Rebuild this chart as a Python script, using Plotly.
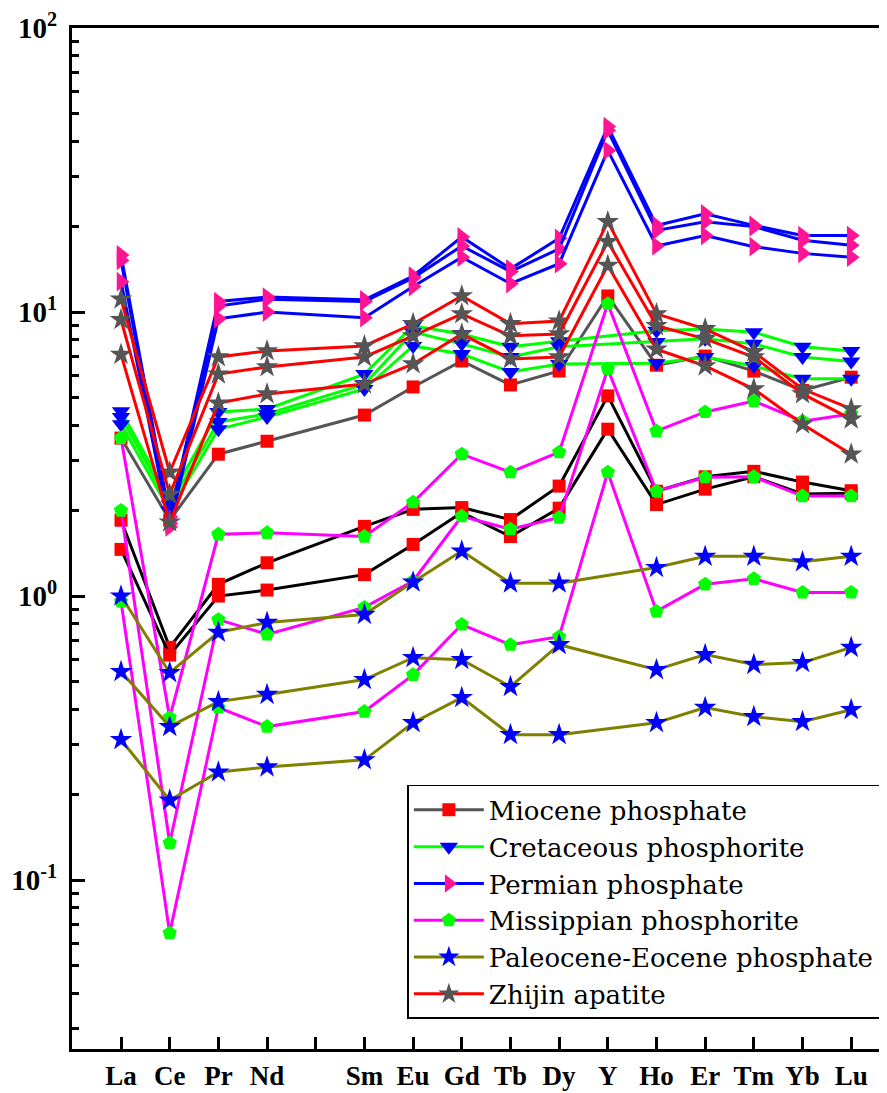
import plotly.graph_objects as go

# Element order on the x axis (blank slot for Pm)
categories = ["La", "Ce", "Pr", "Nd", " ", "Sm", "Eu", "Gd", "Tb", "Dy", "Y", "Ho", "Er", "Tm", "Yb", "Lu"]
elements = ["La", "Ce", "Pr", "Nd", "Sm", "Eu", "Gd", "Tb", "Dy", "Y", "Ho", "Er", "Tm", "Yb", "Lu"]

# Miocene phosphate
miocene_1 = [3.6, 1.85, 3.16, 3.51, 4.34, 5.45, 6.73, 5.54, 6.2, 11.4, 6.5, 7.0, 6.2, 5.3, 5.9]
miocene_2 = [1.85, 0.66, 1.10, 1.31, 1.76, 2.02, 2.05, 1.86, 2.44, 5.07, 2.34, 2.63, 2.75, 2.52, 2.35]
miocene_3 = [1.46, 0.62, 1.00, 1.05, 1.19, 1.52, 1.97, 1.62, 2.04, 3.87, 2.10, 2.38, 2.63, 2.29, 2.30]

# Cretaceous phosphorite (no Y value)
cretaceous_1 = [4.48, 2.2, 4.45, 4.56, 6.05, 8.95, 8.37, 7.55, 7.9, None, 8.6, 8.72, 8.5, 7.55, 7.3]
cretaceous_2 = [4.27, 2.1, 4.1, 4.38, 5.58, 8.5, 7.73, 6.95, 7.55, None, 7.85, 8.05, 7.73, 6.95, 6.7]
cretaceous_3 = [4.03, 2.0, 3.87, 4.27, 5.36, 7.6, 7.12, 6.15, 6.57, None, 6.6, 6.95, 6.46, 5.82, 5.82]

# Permian phosphate
permian_1 = [15.9, 1.9, 10.9, 11.3, 11.05, 13.4, 18.4, 14.2, 18.2, 45.0, 20.2, 22.2, 20.2, 18.6, 18.6]
permian_2 = [15.2, 1.8, 10.5, 11.1, 10.9, 13.2, 17.1, 13.9, 16.7, 43.6, 19.4, 20.8, 20.0, 17.9, 17.2]
permian_3 = [12.8, 1.75, 9.47, 10.0, 9.55, 12.3, 15.6, 12.6, 14.8, 37.1, 17.1, 18.6, 17.0, 16.1, 15.6]

# Missippian phosphorite
missippian_1 = [3.6, 0.373, 1.65, 1.67, 1.62, 2.14, 3.16, 2.73, 3.21, 10.7, 3.81, 4.45, 4.86, 4.13, 4.38]
missippian_2 = [2.0, 0.135, 0.826, 0.733, 0.912, 1.13, 1.91, 1.72, 1.89, 6.3, 2.34, 2.62, 2.63, 2.25, 2.25]
missippian_3 = [0.957, 0.065, 0.405, 0.347, 0.392, 0.528, 0.794, 0.674, 0.719, 2.73, 0.883, 1.10, 1.15, 1.03, 1.03]

# Paleocene-Eocene phosphate (no Y value)
paleocene_1 = [1.0, 0.537, 0.745, 0.807, 0.861, 1.12, 1.44, 1.11, 1.11, None, 1.26, 1.38, 1.38, 1.32, 1.38]
paleocene_2 = [0.542, 0.347, 0.425, 0.45, 0.508, 0.607, 0.597, 0.48, 0.674, None, 0.55, 0.622, 0.574, 0.583, 0.659]
paleocene_3 = [0.312, 0.191, 0.240, 0.25, 0.265, 0.358, 0.439, 0.325, 0.325, None, 0.358, 0.405, 0.376, 0.361, 0.398]

# Zhijin apatite
zhijin_1 = [11.1, 2.73, 6.95, 7.3, 7.6, 9.1, 11.4, 9.1, 9.3, 20.8, 9.86, 8.72, 7.25, 5.36, 4.56]
zhijin_2 = [9.4, 2.28, 6.05, 6.41, 6.95, 8.25, 9.86, 8.25, 8.37, 17.7, 8.95, 8.05, 6.95, 5.15, 4.2]
zhijin_3 = [7.1, 1.82, 4.78, 5.15, 5.58, 6.57, 8.37, 6.84, 6.95, 14.6, 7.4, 6.46, 5.36, 4.03, 3.16]

y_tickvals = [0.1, 1, 10, 100]
y_ticktext = ["10<sup>-1</sup>", "10<sup>0</sup>", "10<sup>1</sup>", "10<sup>2</sup>"]

series = [
    ("Miocene phosphate", [miocene_1, miocene_2, miocene_3], ["#555555", "#000000", "#000000"], "square", "#FF0000", 13),
    ("Cretaceous phosphorite", [cretaceous_1, cretaceous_2, cretaceous_3], ["#00FF00"] * 3, "triangle-down", "#0000FF", 16),
    ("Permian phosphate", [permian_1, permian_2, permian_3], ["#0000FF"] * 3, "triangle-right", "#FF1493", 17),
    ("Missippian phosphorite", [missippian_1, missippian_2, missippian_3], ["#FF00FF"] * 3, "pentagon", "#00FF00", 15),
    ("Paleocene-Eocene phosphate", [paleocene_1, paleocene_2, paleocene_3], ["#808000"] * 3, "star", "#0000FF", 17),
    ("Zhijin apatite", [zhijin_1, zhijin_2, zhijin_3], ["#FF0000"] * 3, "star", "#555555", 17),
]

fig = go.Figure()
for name, samples, line_colors, symbol, mcolor, msize in series:
    for i, vals in enumerate(samples):
        fig.add_trace(go.Scatter(
            x=elements, y=vals, mode="lines+markers", name=name,
            legendgroup=name, showlegend=(i == 0), connectgaps=True,
            line=dict(color=line_colors[i], width=3),
            marker=dict(symbol=symbol, color=mcolor, size=msize, line=dict(width=0)),
            hoverinfo="skip",
        ))

minor_vals = [m * 10 ** k for k in (-2, -1, 0, 1) for m in range(2, 10) if 0.025 <= m * 10 ** k <= 100]

# the page body offsets the figure by about 8 px, margins compensate for it
fig.update_layout(
    width=887, height=1093,
    margin=dict(l=64, r=0, t=20, b=52),
    paper_bgcolor="white", plot_bgcolor="white",
    showlegend=True,
    legend=dict(
        x=0.4075, y=0.2586, xanchor="left", yanchor="top",
        bordercolor="black", borderwidth=1.5, bgcolor="white",
        font=dict(family="DejaVu Serif", size=26, color="black"),
        itemwidth=70, tracegroupgap=0,
    ),
    xaxis=dict(
        type="category", categoryorder="array", categoryarray=categories,
        range=[-1.007, 15.9],
        showline=True, linecolor="black", linewidth=3, mirror=True,
        ticks="inside", ticklen=12, tickwidth=3, tickcolor="black",
        showgrid=False, zeroline=False, ticklabelstandoff=1,
        tickfont=dict(family="Liberation Serif", size=27, color="black", weight="bold"),
    ),
    yaxis=dict(
        type="log", range=[-1.595, 2.0005],
        showline=True, linecolor="black", linewidth=3, mirror=False,
        ticks="inside", ticklen=13, tickwidth=3, tickcolor="black",
        tickmode="array", tickvals=y_tickvals, ticktext=y_ticktext,
        minor=dict(ticks="inside", ticklen=7, tickwidth=3, tickcolor="black",
                   tickmode="array", tickvals=minor_vals, showgrid=False),
        showgrid=False, zeroline=False, ticklabelstandoff=6,
        tickfont=dict(family="Liberation Serif", size=29, color="black", weight="bold"),
    ),
)

fig.write_html("out.html")
